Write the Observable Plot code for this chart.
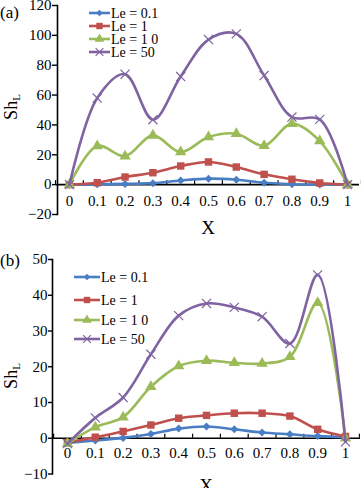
<!DOCTYPE html>
<html>
<head>
<meta charset="utf-8">
<script src="https://cdn.jsdelivr.net/npm/d3@7"></script>
<script src="https://cdn.jsdelivr.net/npm/@observablehq/plot@0.6"></script>
<style>
  html, body { margin: 0; padding: 0; background: #fff; }
  #chart svg { display: block; overflow: visible; }
</style>
</head>
<body>
<div id="chart"></div>
<script>
// ---- data ----
const xValues = [0, 0.1, 0.2, 0.3, 0.4, 0.5, 0.6, 0.7, 0.8, 0.9, 1];
const xTickLabels = ["0", "0.1", "0.2", "0.3", "0.4", "0.5", "0.6", "0.7", "0.8", "0.9", "1"];
const seriesNames = ["Le = 0.1", "Le = 1", "Le = 1 0", "Le = 50"];
const seriesColors = ["#4A7EC4", "#C0504D", "#9BBB59", "#8064A2"];
const seriesSymbols = ["diamond2", "square", "triangle", "times"];

// panel (a)
const aLe01 = [0, 0.2, 0.5, 1, 2.8, 4, 3.3, 1.3, 0.3, 0.1, 0];
const aLe1  = [0, 1.3, 5.1, 8, 12.5, 15.2, 11.8, 6.9, 3.6, 1.1, 0];
const aLe10 = [0, 25.9, 19, 33, 21.8, 31.9, 34.1, 26, 40.8, 29.2, 0];
const aLe50 = [0, 58, 74, 43.5, 72.4, 97.2, 101, 73.1, 45.3, 43.7, 0];
const aYTicks = [-20, 0, 20, 40, 60, 80, 100, 120];

// panel (b)
const bLe01 = [-1.3, -0.6, 0.1, 1.2, 2.7, 3.3, 2.5, 1.6, 1.1, 0.6, 0.3];
const bLe1  = [-1.2, 0.3, 1.9, 3.7, 5.6, 6.4, 7, 7, 6.2, 2.5, 0.5];
const bLe10 = [-1.5, 3.1, 5.9, 14.4, 20.2, 21.7, 21.1, 20.9, 22.8, 37.9, 0];
const bLe50 = [-1.5, 5.7, 11.4, 23.5, 34.3, 37.7, 36.6, 34, 26.5, 45.7, -1];
const bYTicks = [-10, 0, 10, 20, 30, 40, 50];

const FONT = "Liberation Serif, serif";

function panel(cfg) {
  const step = xValues[1] - xValues[0];
  const mids = xValues.slice(1).map((v, i) => (v + xValues[i]) / 2);
  const edgeTicks = [xValues[0] - step / 2, ...mids, xValues[xValues.length - 1] + step / 2];
  const marks = [
    Plot.frame({anchor: "left", stroke: "#000", strokeWidth: 1.6}),
    Plot.axisY({ticks: cfg.yTicks, tickSize: cfg.tickSize, tickPadding: 1, label: null,
      fontSize: 15, fontFamily: FONT, fill: "#000", stroke: "#000", strokeWidth: 1.4}),
    Plot.axisX({ticks: xValues, tickFormat: (d, i) => xTickLabels[i], anchor: "bottom",
      tickSize: 0, tickPadding: 0, label: null, dy: cfg.xLabelDy, fontSize: 15, fontFamily: FONT, fill: "#000"}),
    Plot.ruleY([0], {stroke: "#000", strokeWidth: 1.6}),
    Plot.ruleX(edgeTicks, {y1: 0, y2: 0, insetTop: -4, insetBottom: 0, stroke: "#000", strokeWidth: 1.2})
  ];
  cfg.series.forEach((vals, k) => {
    const rows = xValues.map((x, i) => ({x, y: vals[i]}));
    marks.push(Plot.line(rows, {x: "x", y: "y", curve: "catmull-rom", stroke: seriesColors[k], strokeWidth: 2.6}));
    const isStroke = seriesSymbols[k] === "times";
    marks.push(Plot.dot(rows, {x: "x", y: "y", symbol: () => seriesSymbols[k],
      r: seriesSymbols[k] === "diamond2" ? 3.6 : 4.2,
      fill: isStroke ? "none" : seriesColors[k],
      stroke: isStroke ? seriesColors[k] : "none",
      strokeWidth: isStroke ? 1.2 : 0}));
  });
  const plot = Plot.plot({
    width: 361, height: 244,
    marginLeft: cfg.marginLeft, marginRight: cfg.marginRight,
    marginTop: cfg.marginTop, marginBottom: cfg.marginBottom,
    style: {fontFamily: FONT, background: "#fff", color: "#000"},
    x: {domain: cfg.xDomain, axis: null},
    y: {domain: cfg.yDomain, axis: null},
    symbol: {type: "identity"},
    marks
  });
  const svg = d3.select(plot);
  // panel letter
  svg.append("text").attr("x", 0).attr("y", cfg.letterY).attr("text-anchor", "start").attr("font-family", FONT)
    .attr("font-size", 17).attr("fill", "#000").text(cfg.letter);
  // y label Sh_L
  const yl = svg.append("text").attr("transform", `translate(${cfg.yLabelX},${cfg.yLabelY}) rotate(-90)`)
    .attr("text-anchor", "middle").attr("font-family", FONT).attr("font-size", 18).attr("fill", "#000");
  yl.append("tspan").text("Sh");
  yl.append("tspan").attr("font-size", 11).attr("dy", 3).text("L");
  // x label
  svg.append("text").attr("x", cfg.xTitleX).attr("y", cfg.xTitleY).attr("text-anchor", "middle")
    .attr("font-family", FONT).attr("font-size", 19).attr("fill", "#000").text("X");
  // legend
  const lg = cfg.legend;
  seriesNames.forEach((name, k) => {
    const y = lg.rows[k];
    svg.append("line").attr("x1", lg.x1).attr("x2", lg.x2).attr("y1", y).attr("y2", y)
      .attr("stroke", seriesColors[k]).attr("stroke-width", 2.6);
    const symMap = {diamond2: d3.symbolDiamond2, square: d3.symbolSquare, triangle: d3.symbolTriangle, times: d3.symbolTimes};
    const rr = seriesSymbols[k] === "diamond2" ? 3 : 3.6;
    const isStroke = seriesSymbols[k] === "times";
    svg.append("path").attr("d", d3.symbol(symMap[seriesSymbols[k]], rr * rr * Math.PI)())
      .attr("transform", `translate(${(lg.x1 + lg.x2) / 2},${y})`)
      .attr("fill", isStroke ? "none" : seriesColors[k])
      .attr("stroke", isStroke ? seriesColors[k] : "none").attr("stroke-width", 1.2);
    svg.append("text").attr("x", lg.x2 + 1).attr("y", y).attr("dy", "0.35em").attr("text-anchor", "start")
      .attr("font-family", FONT).attr("font-size", 14).attr("fill", "#000").text(name);
  });
  return plot;
}

const root = document.getElementById("chart");
root.appendChild(panel({
  letter: "(a)", letterY: 18,
  series: [aLe01, aLe1, aLe10, aLe50], yTicks: aYTicks, tickSize: 5,
  xDomain: [-0.043, 1.043], yDomain: [-20, 120],
  marginLeft: 57, marginRight: 2, marginTop: 5, marginBottom: 30,
  xLabelDy: -19.5,
  yLabelX: 17, yLabelY: 107, xTitleX: 208, xTitleY: 234,
  legend: {x1: 89, x2: 110, rows: [13, 26, 39, 52]}
}));
root.appendChild(panel({
  letter: "(b)", letterY: 22,
  series: [bLe01, bLe1, bLe10, bLe50], yTicks: bYTicks, tickSize: 4,
  xDomain: [-0.054, 1.054], yDomain: [-10, 50],
  marginLeft: 52, marginRight: 1, marginTop: 15, marginBottom: 14.5,
  xLabelDy: -26.5,
  yLabelX: 17, yLabelY: 132, xTitleX: 206, xTitleY: 248,
  legend: {x1: 74, x2: 100, rows: [33, 56, 76, 95]}
}));
</script>
</body>
</html>
